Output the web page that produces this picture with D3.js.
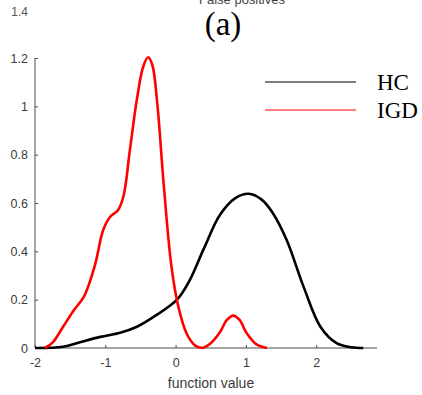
<!DOCTYPE html>
<html>
<head>
<meta charset="utf-8">
<script src="https://cdn.jsdelivr.net/npm/d3@7"></script>
<style>
  body { margin: 0; background: #fff; }
  svg { display: block; }
</style>
</head>
<body>
<div id="chart"></div>
<script>
// density estimates: [function value, density]
const hcPoints = [
  [-2, 0], [-1.6, 0.005], [-1.36, 0.024], [-1.07, 0.046], [-0.79, 0.063],
  [-0.55, 0.088], [-0.27, 0.137], [0.02, 0.2], [0.2, 0.28], [0.4, 0.41],
  [0.63, 0.55], [0.85, 0.62], [1.04, 0.638], [1.22, 0.615], [1.38, 0.56],
  [1.58, 0.447], [1.82, 0.254], [2.06, 0.088], [2.29, 0.02], [2.5, 0.003], [2.67, 0]
]
const igdPoints = [
  [-1.86, 0], [-1.75, 0.022], [-1.6, 0.088], [-1.45, 0.155], [-1.3, 0.215],
  [-1.15, 0.34], [-1.03, 0.488], [-0.93, 0.543], [-0.82, 0.57], [-0.74, 0.63],
  [-0.65, 0.82], [-0.55, 1.03], [-0.46, 1.165], [-0.39, 1.203], [-0.33, 1.17],
  [-0.26, 1.01], [-0.17, 0.68], [-0.06, 0.34], [0.04, 0.17], [0.16, 0.058],
  [0.28, 0.01], [0.38, 0.001], [0.5, 0.02], [0.63, 0.065], [0.73, 0.116],
  [0.82, 0.134], [0.91, 0.116], [1.01, 0.062], [1.15, 0.015], [1.3, 0]
]
const series = [
  { name: "HC", color: "#000000", points: hcPoints },
  { name: "IGD", color: "#ff0000", points: igdPoints }
]
const xTicks = [-2, -1, 0, 1, 2]
const yTicks = [0, 0.2, 0.4, 0.6, 0.8, 1, 1.2]

const width = 422, height = 395
const axisColor = "#4d4d4d"
const sans = "Liberation Sans, Arial, sans-serif"
const serif = "Liberation Serif, Times New Roman, serif"

const svg = d3.select("#chart")
  .append("svg")
  .attr("width", width)
  .attr("height", height)

const x = d3.scaleLinear().domain([-2, 2.865]).range([35, 377])
const y = d3.scaleLinear().domain([0, 1.2]).range([348, 58])

// clipped leftovers of the panel above
svg.append("text")
  .attr("x", 242).attr("y", 4)
  .attr("text-anchor", "middle")
  .attr("font-family", sans)
  .attr("font-size", 13)
  .attr("fill", "#444")
  .text("False positives")
svg.append("text")
  .attr("x", 28).attr("y", 16)
  .attr("text-anchor", "end")
  .attr("font-family", sans)
  .attr("font-size", 12)
  .attr("fill", "#555")
  .text("1.4")

// panel title
svg.append("text")
  .attr("x", 223).attr("y", 35)
  .attr("text-anchor", "middle")
  .attr("font-family", serif)
  .attr("font-size", 33)
  .attr("fill", "#000")
  .text("(a)")

// axes, MATLAB style with inward ticks
const xAxis = svg.append("g")
  .attr("transform", `translate(0,${y(0)})`)
  .call(d3.axisBottom(x).tickValues(xTicks).tickSize(-3).tickPadding(10)
    .tickFormat(d => d3.format("d")(d).replace("−", "-")))
const yAxis = svg.append("g")
  .attr("transform", `translate(${x(-2)},0)`)
  .call(d3.axisLeft(y).tickValues(yTicks).tickSize(-3).tickPadding(7)
    .tickFormat(d => d3.format("")(d)))

for (const g of [xAxis, yAxis]) {
  g.select(".domain").attr("stroke", axisColor)
  g.selectAll(".tick line").attr("stroke", axisColor)
  g.selectAll(".tick text")
    .attr("fill", "#3a3a3a")
    .attr("font-family", sans)
    .attr("font-size", 12.5)
}
xAxis.select(".domain").attr("d", `M${x(-2)},0H${x.range()[1]}`)
yAxis.select(".domain").attr("d", `M0,${y(1.2)}V${y(0)}`)

svg.append("text")
  .attr("x", 211).attr("y", 388)
  .attr("text-anchor", "middle")
  .attr("font-family", sans)
  .attr("font-size", 14)
  .attr("fill", "#3a3a3a")
  .text("function value")

// curves
const line = d3.line()
  .x(d => x(d[0]))
  .y(d => y(d[1]))
  .curve(d3.curveCatmullRom.alpha(0.5))

svg.selectAll("path.curve")
  .data(series)
  .enter()
    .append("path")
    .attr("class", "curve")
    .attr("d", d => line(d.points))
    .attr("fill", "none")
    .attr("stroke", d => d.color)
    .attr("stroke-width", 2.6)
    .attr("stroke-linejoin", "round")

// legend
const legend = svg.selectAll("g.legend")
  .data(series)
  .enter()
    .append("g")
    .attr("class", "legend")
    .attr("transform", (d, i) => `translate(0,${82 + i * 28})`)

legend.append("line")
  .attr("x1", 265).attr("x2", 356)
  .attr("y1", 0).attr("y2", 0)
  .attr("stroke", d => d.color)
  .attr("stroke-width", 1)

legend.append("text")
  .attr("x", 377).attr("y", 8)
  .attr("font-family", serif)
  .attr("font-size", 23)
  .attr("fill", "#000")
  .text(d => d.name)
</script>
</body>
</html>
